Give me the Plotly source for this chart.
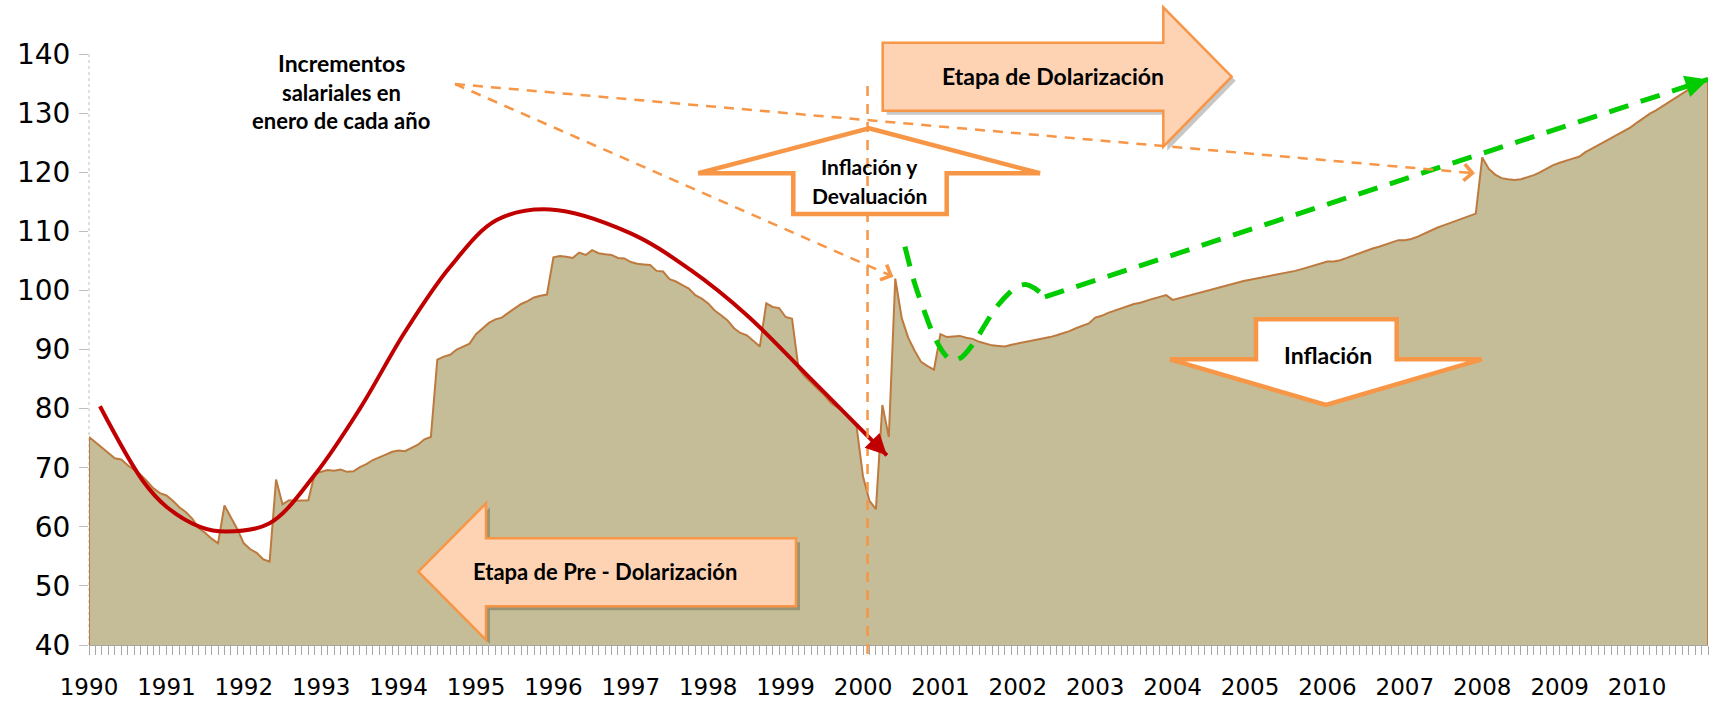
import plotly.graph_objects as go

# ---- data -------------------------------------------------------------
years = list(range(1990, 2011))

salary_index = [
    # 1990
    75.2, 74.3, 73.4, 72.4, 71.6, 71.4, 70.4, 69.6, 68.8, 67.7, 66.5, 65.7,
    # 1991
    65.3, 64.4, 63.3, 62.5, 61.4, 59.8, 59.0, 58.0, 57.2, 63.6, 61.5, 59.6,
    # 1992
    57.2, 56.2, 55.6, 54.5, 54.1, 68.0, 63.8, 64.5, 64.4, 64.4, 64.5, 69.0,
    # 1993
    69.3, 69.6, 69.5, 69.7, 69.3, 69.4, 70.1, 70.6, 71.3, 71.7, 72.2, 72.7,
    # 1994
    72.9, 72.8, 73.4, 73.9, 74.8, 75.2, 88.3, 88.8, 89.1, 90.0, 90.5, 91.0,
    # 1995
    92.6, 93.6, 94.5, 95.1, 95.4, 96.2, 97.0, 97.7, 98.2, 98.8, 99.1, 99.3,
    # 1996
    105.6, 105.8, 105.7, 105.5, 106.4, 106.0, 106.8, 106.3, 106.1, 106.0, 105.5, 105.4,
    # 1997
    104.8, 104.5, 104.4, 104.3, 103.3, 103.2, 101.9, 101.5, 100.9, 100.3, 99.2, 98.6,
    # 1998
    97.8, 96.6, 95.8, 94.9, 93.6, 92.8, 92.4, 91.5, 90.5, 97.8, 97.2, 97.0,
    # 1999
    95.5, 95.2, 86.8, 85.4, 84.3, 83.3, 82.3, 81.0, 80.2, 79.6, 78.2, 77.0,
    # 2000
    68.5, 64.4, 63.0, 80.6, 75.2, 102.0, 95.3, 92.0, 89.8, 87.9, 87.2, 86.6,
    # 2001
    92.6, 92.1, 92.2, 92.3, 92.0, 91.8, 91.3, 91.0, 90.7, 90.6, 90.5, 90.8,
    # 2002
    91.0, 91.2, 91.4, 91.6, 91.9, 92.1, 92.4, 92.7, 93.1, 93.6, 94.0, 94.4,
    # 2003
    95.4, 95.7, 96.2, 96.6, 97.0, 97.3, 97.7, 97.9, 98.3, 98.6, 98.9, 99.2,
    # 2004
    98.4, 98.7, 98.9, 99.2, 99.6, 99.9, 100.2, 100.5, 100.8, 101.0, 101.3, 101.6,
    # 2005
    101.8, 102.0, 102.3, 102.5, 102.6, 102.8, 103.1, 103.3, 103.6, 103.9, 104.2, 104.6,
    # 2006
    104.9, 104.9, 105.1, 105.5, 105.9, 106.4, 106.8, 107.1, 107.4, 107.8, 108.1, 108.5,
    # 2007
    108.5, 108.7, 109.1, 109.6, 110.2, 110.6, 111.0, 111.4, 111.9, 112.3, 112.7, 113.0,
    # 2008
    122.5, 120.6, 119.6, 119.0, 118.8, 118.7, 118.8, 119.1, 119.5, 120.0, 120.6, 121.2,
    # 2009
    121.6, 122.0, 122.3, 122.6, 123.4, 124.0, 124.6, 125.3, 125.9, 126.5, 127.0, 127.6,
    # 2010
    128.4, 129.2, 129.9, 130.5, 131.2, 131.9, 132.5, 133.2, 134.0, 134.7, 135.2, 135.9,
]
months = list(range(len(salary_index)))

# hand-drawn trend arrows (month index, index value)
red_x = [1.7, 8.4, 12, 17.2, 21.3, 28, 35, 42, 49, 56, 63.2, 71.5, 83.9, 93.2, 102, 112.3, 123.7]
red_y = [80.4, 67.7, 63.4, 60.0, 59.2, 60.6, 68.8, 80.0, 93.0, 104.0, 111.9, 113.7, 109.7, 103.5, 95.8, 84.6, 72.1]

green_x = [126.5, 128, 129.5, 130.9, 132.5, 133.8, 135.3, 137.1, 140.7, 143.8, 145.2, 146.7, 148.2]
green_y = [107.4, 101.2, 96.5, 92.5, 89.4, 88.1, 88.7, 91.0, 97.2, 100.6, 101.0, 100.3, 98.9]
green_tail_x = [148.2, 251]
green_tail_y = [98.9, 135.7]

dollarization_month = 120.7
y_min, y_max = 40, 140

# ---- geometry (screen pixels of the 1719x703 window) -------------------
W, H = 1719, 703
PL, PR, PT, PB = 89, 1708, 54, 645   # plot area on screen
PW, PH = PR - PL, PB - PT
X_SCALE = PW / (months[-1] - months[0])
Y_SCALE = PH / (y_max - y_min)

ORANGE = "#F79646"
PEACH = "#FDD3B4"
FONT = "Lato, 'Open Sans', sans-serif"
TICK_FONT = "'DejaVu Sans', sans-serif"


def paper(x, y):
    return (x - PL) / PW, (PB - y) / PH


def path(points, dx=0, dy=0):
    pts = [paper(x + dx, y + dy) for x, y in points]
    return "M " + " L ".join(f"{a:.5f},{b:.5f}" for a, b in pts) + " Z"


def head(x, y, from_x, from_y, color, style, width, size, xref="x", yref="y", length=10):
    # short arrow at (x, y), pointing away from (from_x, from_y)
    if xref == "x":
        vx = (x - from_x) * X_SCALE
        vy = -(y - from_y) * Y_SCALE
    else:
        vx = (x - from_x) * PW
        vy = -(y - from_y) * PH
    n = (vx ** 2 + vy ** 2) ** 0.5
    return dict(x=x, y=y, xref=xref, yref=yref, text="", showarrow=True,
                ax=-vx / n * length, ay=-vy / n * length, axref="pixel", ayref="pixel",
                arrowhead=style, arrowwidth=width, arrowsize=size, arrowcolor=color)


fig = go.Figure()

fig.add_trace(go.Scatter(
    x=[months[0]] + months + [months[-1]],
    y=[y_min] + salary_index + [y_min],
    mode="lines", fill="toself", fillcolor="#C4BD97",
    line=dict(color="#BE7A3E", width=2), hoverinfo="skip", showlegend=False,
))
fig.add_trace(go.Scatter(
    x=red_x, y=red_y, mode="lines", line=dict(color="#C00000", width=4, shape="spline", smoothing=1.0),
    hoverinfo="skip", showlegend=False,
))
fig.add_trace(go.Scatter(
    x=green_x, y=green_y, mode="lines",
    line=dict(color="#00CC00", width=5, shape="spline", smoothing=0.8, dash="20px,13px"),
    hoverinfo="skip", showlegend=False,
))
fig.add_trace(go.Scatter(
    x=green_tail_x, y=green_tail_y, mode="lines",
    line=dict(color="#00CC00", width=5, dash="20px,13px"),
    hoverinfo="skip", showlegend=False,
))

# ---- decorative arrows --------------------------------------------------
dolar_arrow = [(882.7, 42.7), (1163.3, 42.7), (1163.3, 7.3), (1231.7, 76.7),
               (1163.3, 146.7), (1163.3, 110.7), (882.7, 110.7)]
pre_arrow = [(418.3, 571.7), (486, 503.3), (486, 538.3), (796, 538.3),
             (796, 606.3), (486, 606.3), (486, 640)]
up_arrow = [(869, 128.3), (1040, 173.3), (946.7, 173.3), (946.7, 214),
            (793.3, 214), (793.3, 173.3), (698.3, 173.3)]
down_arrow = [(1256, 319.3), (1396.7, 319.3), (1396.7, 359.3), (1481.7, 359.3),
              (1326, 405), (1170, 359.3), (1256, 359.3)]

shapes = []
for pts in (dolar_arrow, pre_arrow):
    shapes.append(dict(type="path", xref="paper", yref="paper", path=path(pts, 4, 4),
                       fillcolor="rgba(0,0,0,0.22)", line=dict(width=0), layer="above"))
    shapes.append(dict(type="path", xref="paper", yref="paper", path=path(pts),
                       fillcolor=PEACH, line=dict(color=ORANGE, width=2.5), layer="above"))
for pts in (up_arrow, down_arrow):
    shapes.append(dict(type="path", xref="paper", yref="paper", path=path(pts),
                       fillcolor="white", line=dict(color=ORANGE, width=4.5), layer="above"))

# dashed pointers from the "Incrementos" note
src = (455, 84)
targets = [(1475, 173.3), (893.3, 276.7)]
for tx, ty in targets:
    x0, y0 = paper(*src)
    x1, y1 = paper(tx, ty)
    shapes.append(dict(type="line", xref="paper", yref="paper", x0=x0, y0=y0, x1=x1, y1=y1,
                       line=dict(color=ORANGE, width=2.5, dash="10px,8px"), layer="above"))

# dollarization date line
shapes.append(dict(type="line", xref="x", yref="paper", x0=dollarization_month, x1=dollarization_month,
                   y0=paper(0, 654)[1], y1=paper(0, 85)[1],
                   line=dict(color=ORANGE, width=2.5, dash="10px,8px"), layer="above"))
# dotted value axis
shapes.append(dict(type="line", xref="paper", yref="paper", x0=0, x1=0, y0=0, y1=1,
                   line=dict(color="#BFBFBF", width=1, dash="dot"), layer="below"))

annotations = []
for tx, ty in targets:
    fx, fy = paper(*src)
    px, py = paper(tx, ty)
    annotations.append(head(px, py, fx, fy, ORANGE, 4, 2, 1.6, xref="paper", yref="paper", length=8))
annotations.append(head(red_x[-1], red_y[-1], red_x[-2], red_y[-2], "#C00000", 2, 3, 1.4))
annotations.append(head(green_tail_x[-1], green_tail_y[-1], green_tail_x[0], green_tail_y[0],
                        "#00CC00", 2, 3, 1.5))

labels = [
    ("Incrementos", 341, 63, 23),
    ("salariales en", 341, 92, 22),
    ("enero de cada año", 341, 121, 22),
    ("Inflación y", 869, 166, 21),
    ("Devaluación", 869, 195, 21),
    ("Etapa de Dolarización", 1053, 76, 23),
    ("Etapa de Pre - Dolarización", 605, 571, 22),
    ("Inflación", 1328, 355, 23),
]
for text, x, y, size in labels:
    px, py = paper(x, y)
    annotations.append(dict(x=px, y=py, xref="paper", yref="paper", text=f"<b>{text}</b>",
                            showarrow=False, xanchor="center", yanchor="middle",
                            font=dict(family=FONT, size=size, color="#000000")))

fig.update_layout(
    width=W, height=H,
    margin=dict(l=PL, r=W - PR, t=PT, b=H - PB),
    paper_bgcolor="white", plot_bgcolor="white",
    showlegend=False,
    shapes=shapes, annotations=annotations,
    xaxis=dict(
        range=[months[0], months[-1]], automargin=False,
        tickmode="array", tickvals=[12 * i for i in range(len(years))], ticktext=[str(y) for y in years],
        ticks="outside", ticklen=9, tickcolor="#A6A6A6",
        minor=dict(tickmode="linear", tick0=0, dtick=1, ticks="outside", ticklen=9, tickcolor="#A6A6A6"),
        showline=True, linecolor="#A6A6A6", linewidth=1,
        showgrid=False, zeroline=False,
        tickfont=dict(family=TICK_FONT, size=23, color="#000000"),
        ticklabelstandoff=12,
    ),
    yaxis=dict(
        range=[y_min, y_max], dtick=10, automargin=False,
        ticks="outside", ticklen=9, tickcolor="#BFBFBF",
        showline=False, showgrid=False, zeroline=False,
        tickfont=dict(family=TICK_FONT, size=28, color="#000000"),
        ticklabelstandoff=3,
    ),
)

# the page's default body margin would push the fixed-size figure off the window
fig.write_html("out.html", config={"displayModeBar": False},
               post_script="document.body.style.margin='0';")
